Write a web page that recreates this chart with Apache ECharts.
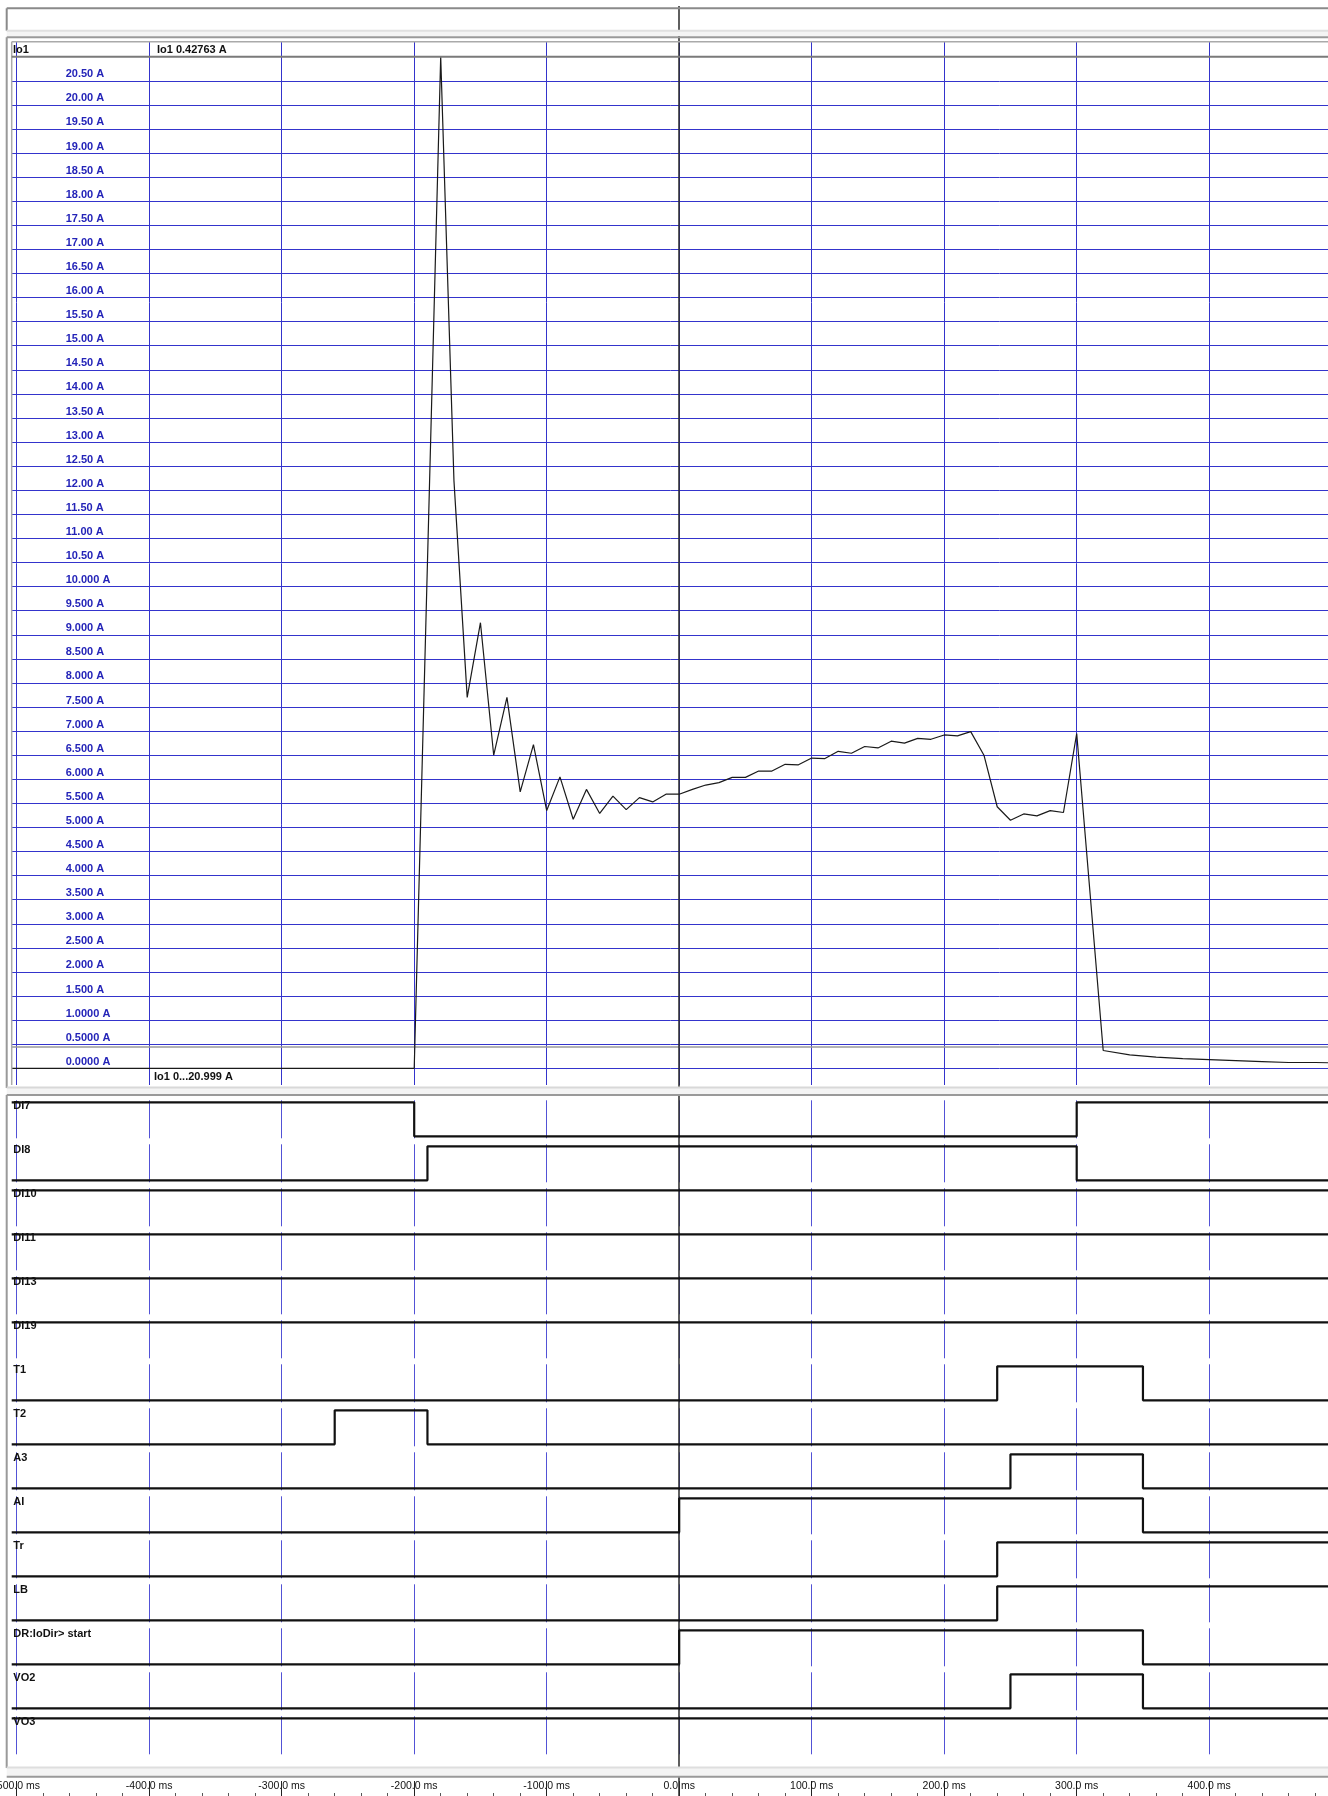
<!DOCTYPE html>
<html>
<head>
<meta charset="utf-8">
<script src="https://cdn.jsdelivr.net/npm/echarts@6/dist/echarts.min.js"></script>
<style>
html,body{margin:0;padding:0;background:#fff}
#chart{width:1328px;height:1796px}
</style>
</head>
<body>
<div id="chart"></div>
<script>
// ---- recorded data ----
// Io1 RMS current (time in ms relative to trigger, value in A)
const ioTimes = [-500, -200, -180, -170, -160, -150, -140, -130, -120, -110, -100, -90, -80, -70, -60, -50, -40, -30, -20, -10,
  0, 10, 20, 30, 40, 50, 60, 70, 80, 90, 100, 110, 120, 130, 140, 150, 160, 170, 180, 190, 200, 210, 220, 230, 240, 250,
  260, 270, 280, 290, 300, 320, 340, 360, 380, 400, 420, 440, 460, 480, 500];
const ioValues = [0, 0, 21.0, 12.2, 7.70, 9.25, 6.50, 7.70, 5.74, 6.72, 5.35, 6.05, 5.17, 5.79, 5.29, 5.65, 5.37, 5.62, 5.53, 5.69,
  5.69, 5.79, 5.88, 5.93, 6.04, 6.04, 6.17, 6.17, 6.31, 6.30, 6.44, 6.43, 6.58, 6.54, 6.68, 6.65, 6.79, 6.75, 6.85, 6.83, 6.92, 6.90, 6.99, 6.50, 5.43, 5.15,
  5.28, 5.24, 5.35, 5.31, 6.95, 0.37, 0.28, 0.23, 0.20, 0.18, 0.16, 0.14, 0.12, 0.12, 0.11];
const ioThreshold = 0.45;
const ioTickLabels = ['0.0000 A', '0.5000 A', '1.0000 A', '1.500 A', '2.000 A', '2.500 A', '3.000 A', '3.500 A', '4.000 A', '4.500 A',
  '5.000 A', '5.500 A', '6.000 A', '6.500 A', '7.000 A', '7.500 A', '8.000 A', '8.500 A', '9.000 A', '9.500 A', '10.000 A',
  '10.50 A', '11.00 A', '11.50 A', '12.00 A', '12.50 A', '13.00 A', '13.50 A', '14.00 A', '14.50 A', '15.00 A', '15.50 A',
  '16.00 A', '16.50 A', '17.00 A', '17.50 A', '18.00 A', '18.50 A', '19.00 A', '19.50 A', '20.00 A', '20.50 A'];
const ioHeader = 'Io1';
const ioCursorText = 'Io1 0.42763 A';
const ioRangeText = 'Io1 0...20.999 A';

// binary channels: initial state and the times (ms) at which the state toggles
const digitalNames = ['DI7', 'DI8', 'DI10', 'DI11', 'DI13', 'DI19', 'T1', 'T2', 'A3', 'AI', 'Tr', 'LB', 'DR:IoDir> start', 'VO2', 'VO3'];
const digitalInitial = [1, 0, 1, 1, 1, 1, 0, 0, 0, 0, 0, 0, 0, 0, 1];
const digitalEdges = [[-200, 300], [-190, 300], [], [], [], [], [240, 350], [-260, -190], [250, 350], [0, 350], [240], [240], [0, 350], [250, 350], []];

const cursorTime = 0;
const timeMin = -500, timeMax = 500, timeStep = 100;
const timeLabelLast = 400;   // last time label drawn in the visible window

// ---- layout ----
const FONT = "'Liberation Sans', Arial, sans-serif";
const PX_PER_MS = 1.325;
const X0 = 16.7;            // pixel of timeMin
const PANEL_LEFT = 11.7;    // inner panel edge, traces start here
const T_LEFT = timeMin - (X0 - PANEL_LEFT) / PX_PER_MS;
const FULL_W = (timeMax - timeMin) * PX_PER_MS;
const DATA_W = (timeMax - T_LEFT) * PX_PER_MS;
const GRID_BLUE = '#3434cc';
const ROW_TOP0 = 1102.3, ROW_PITCH = 44, ROW_SWING = 34;

const grids = [], xAxes = [], yAxes = [], series = [];
const bare = { type: 'value', axisLine: { show: false }, axisTick: { show: false }, axisLabel: { show: false }, splitLine: { show: false } };

function addGrid(g, x, y) {
  grids.push(Object.assign({ outerBoundsMode: 'none', containLabel: false, show: false }, g));
  const i = grids.length - 1;
  xAxes.push(Object.assign({}, bare, { gridIndex: i }, x));
  yAxes.push(Object.assign({}, bare, { gridIndex: i }, y));
  return i;
}

// vertical time grid behind the analog panel (runs through header and footer rows)
addGrid({ left: X0, top: 41.7, width: FULL_W, height: 1043.3 },
  { min: timeMin, max: timeMax, interval: timeStep, splitLine: { show: true, lineStyle: { color: GRID_BLUE, width: 1 } } },
  { min: 0, max: 1 });

// analog value grid
const aIdx = addGrid({ left: PANEL_LEFT, top: 56.7, width: DATA_W, height: 1011.6 },
  { min: T_LEFT, max: timeMax },
  {
    min: 0, max: 21, interval: 0.5,
    splitLine: { show: true, lineStyle: { color: GRID_BLUE, width: 1 } },
    axisLabel: {
      show: true, inside: true, margin: 54, align: 'left', verticalAlign: 'bottom', lineHeight: 13,
      color: '#2424b8', fontWeight: 'bold', fontSize: 11, fontFamily: FONT,
      formatter: v => ioTickLabels[Math.round(v / 0.5)] || ''
    }
  });

series.push({
  type: 'line', xAxisIndex: aIdx, yAxisIndex: aIdx,
  data: ioTimes.map((t, i) => [t === timeMin ? T_LEFT : t, ioValues[i]]),
  showSymbol: false, animation: false, silent: true, z: 5,
  lineStyle: { color: '#1a1a1a', width: 1.2 },
  markLine: {
    silent: true, symbol: ['none', 'none'], animation: false, label: { show: false },
    lineStyle: { color: '#9a9a9a', width: 1.5, type: 'solid' },
    data: [{ yAxis: ioThreshold }]
  }
});

// broken vertical time grid behind the binary channels (one segment per row)
addGrid({ left: X0, top: ROW_TOP0 - 2, width: FULL_W, height: ROW_PITCH * (digitalNames.length - 1) + 38 },
  { min: timeMin, max: timeMax, interval: timeStep, splitLine: { show: true, lineStyle: { color: '#5252d6', width: 1, type: [38, ROW_PITCH - 38] } } },
  { min: 0, max: 1 });

// one small grid per binary channel
digitalNames.forEach((name, i) => {
  const top = ROW_TOP0 + ROW_PITCH * i - 2;
  const idx = addGrid({ left: PANEL_LEFT, top: top, width: DATA_W, height: 38 },
    { min: T_LEFT, max: timeMax },
    { min: -2 / ROW_SWING, max: 1 + 2 / ROW_SWING });
  let s = digitalInitial[i];
  const pts = [[T_LEFT, s]];
  digitalEdges[i].forEach(t => { s = 1 - s; pts.push([t, s]); });
  pts.push([timeMax, s]);
  series.push({
    type: 'line', step: 'end', xAxisIndex: idx, yAxisIndex: idx, data: pts,
    showSymbol: false, animation: false, silent: true, z: 5,
    lineStyle: { color: '#111', width: 2.2 }
  });
});

// full-height grid carrying the time axis and the cursor
const tIdx = addGrid({ left: X0, top: 6, width: FULL_W, height: 1790 },
  {
    min: timeMin, max: timeMax, interval: timeStep, position: 'bottom',
    axisTick: { show: true, inside: true, length: 15, lineStyle: { color: '#222', width: 1 } },
    minorTick: { show: true, splitNumber: 5, length: 3, lineStyle: { color: '#555', width: 1 } },
    axisLabel: {
      show: true, inside: true, margin: 4, color: '#111', fontSize: 10.5, fontFamily: FONT,
      formatter: v => (v <= timeLabelLast ? v.toFixed(1) + ' ms' : '')
    }
  },
  { min: 0, max: 1 });
series.push({
  type: 'line', xAxisIndex: tIdx, yAxisIndex: tIdx, data: [], animation: false, silent: true,
  markLine: {
    silent: true, symbol: ['none', 'none'], animation: false, label: { show: false },
    lineStyle: { color: '#2a2a2a', width: 1.5, type: 'solid' },
    data: [{ xAxis: cursorTime }]
  }
});

// ---- panel frames and captions ----
const W = 1328;
function hline(x1, x2, y, color, w) { return { type: 'line', z: 100, silent: true, shape: { x1, y1: y, x2, y2: y }, style: { stroke: color, lineWidth: w } }; }
function vline(x, y1, y2, color, w) { return { type: 'line', z: 100, silent: true, shape: { x1: x, y1, x2: x, y2 }, style: { stroke: color, lineWidth: w } }; }
function label(text, x, y) {
  return { type: 'text', z: 101, silent: true, x, y, style: { text, fill: '#111', font: 'bold 11px ' + FONT, verticalAlign: 'middle', align: 'left' } };
}
const graphic = [
  { type: 'rect', z: 99, silent: true, shape: { x: 6.7, y: 30, width: W, height: 6 }, style: { fill: '#f4f4f4' } },
  { type: 'rect', z: 99, silent: true, shape: { x: 6.7, y: 1087, width: W, height: 7 }, style: { fill: '#f4f4f4' } },
  { type: 'rect', z: 99, silent: true, shape: { x: 6.7, y: 1767, width: W, height: 9 }, style: { fill: '#f4f4f4' } },
  hline(6.7, W, 8.3, '#8a8a8a', 2),
  vline(6.7, 8.3, 30.7, '#8a8a8a', 2),
  hline(6.7, W, 30.7, '#e0e0e0', 2),
  hline(6.7, W, 37.3, '#999', 2),
  hline(11.7, W, 41.7, '#aaa', 1.5),
  vline(6.7, 37.3, 1088, '#999', 2),
  vline(11.7, 41.7, 1085, '#aaa', 1.5),
  hline(11.7, W, 56.7, '#7a7a7a', 2),
  hline(6.7, W, 1087.5, '#d8d8d8', 2),
  hline(6.7, W, 1095, '#9a9a9a', 2),
  vline(6.7, 1095, 1768, '#9a9a9a', 2),
  hline(6.7, W, 1767.5, '#dedede', 2),
  hline(6.7, W, 1776.7, '#9a9a9a', 2),
  label(ioHeader, 13, 49.5),
  label(ioCursorText, 157, 49.5),
  label(ioRangeText, 154, 1077)
];
digitalNames.forEach((name, i) => graphic.push(label(name, 13.3, ROW_TOP0 + ROW_PITCH * i + 4)));

const chart = echarts.init(document.getElementById('chart'), null, { renderer: 'canvas' });
chart.setOption({
  backgroundColor: '#fff',
  animation: false,
  textStyle: { fontFamily: FONT },
  grid: grids,
  xAxis: xAxes,
  yAxis: yAxes,
  series: series,
  graphic: graphic
});
</script>
</body>
</html>
